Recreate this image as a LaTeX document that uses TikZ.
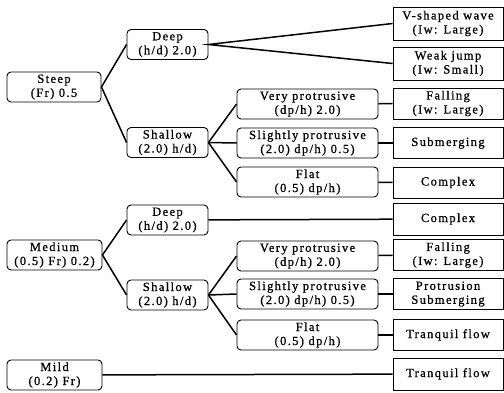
\documentclass[tikz,border=0pt]{standalone}
\usepackage{fontspec}
\setmainfont{Liberation Serif}[LetterSpace=11,FakeBold=0.8]
\usetikzlibrary{positioning}
\tikzset{
	cond/.style={
		draw,rounded corners=4pt,line width=0.9pt,align=center,
		minimum height=30pt,inner sep=1pt,font=\fontsize{12.5}{14}\selectfont},
	res/.style={
		draw,line width=0.9pt,align=center,minimum width=110pt,
		minimum height=31pt,inner sep=1pt,font=\fontsize{12.5}{14}\selectfont},
	link/.style={line width=1.5pt}
}
\begin{document}
\begin{tikzpicture}[x=1pt,y=-1pt]
	\useasboundingbox (0,0) rectangle (504,392);
	% slope classes
	\node[cond,minimum width=94pt] (steep) at (54,87) {Steep\\(Fr) 0.5};
	\node[cond,minimum width=95pt] (medium) at (54.5,255) {Medium\\(0.5) Fr) 0.2)};
	\node[cond,minimum width=95pt] (mild) at (54.5,375) {Mild\\(0.2) Fr)};
	% depth
	\node[cond,minimum width=81pt] (deepA) at (167.5,44.5) {Deep\\(h/d) 2.0)};
	\node[cond,minimum width=81pt] (shallowA) at (167.5,142.5) {Shallow\\(2.0) h/d)};
	\node[cond,minimum width=81pt] (deepB) at (167.5,220) {Deep\\(h/d) 2.0)};
	\node[cond,minimum width=81pt] (shallowB) at (167.5,295) {Shallow\\(2.0) h/d)};
	% protrusion
	\node[cond,minimum width=141pt] (veryA) at (307.5,104) {Very protrusive\\(dp/h) 2.0)};
	\node[cond,minimum width=141pt] (slightA) at (307.5,143) {Slightly protrusive\\(2.0) dp/h) 0.5)};
	\node[cond,minimum width=141pt] (flatA) at (307.5,182) {Flat\\(0.5) dp/h)};
	\node[cond,minimum width=141pt] (veryB) at (307.5,256) {Very protrusive\\(dp/h) 2.0)};
	\node[cond,minimum width=141pt] (slightB) at (307.5,294) {Slightly protrusive\\(2.0) dp/h) 0.5)};
	\node[cond,minimum width=141pt] (flatB) at (307.5,335) {Flat\\(0.5) dp/h)};
	% flow types
	\node[res,minimum height=33pt] (vshape) at (448,23.5) {V-shaped wave\\(Iw: Large)};
	\node[res,minimum height=33pt] (weak) at (448,63.5) {Weak jump\\(Iw: Small)};
	\node[res] (fallA) at (448,103.5) {Falling\\(Iw: Large)};
	\node[res] (subm) at (448,143) {Submerging};
	\node[res] (cplxA) at (448,182.5) {Complex};
	\node[res,minimum height=32pt] (cplxB) at (448,219) {Complex};
	\node[res] (fallB) at (448,255) {Falling\\(Iw: Large)};
	\node[res] (protsub) at (448,294) {Protrusion\\Submerging};
	\node[res] (tranqA) at (448,335) {Tranquil flow};
	\node[res,minimum height=32pt] (tranqB) at (448,374) {Tranquil flow};
	% connectors
	\draw[link] (deepA.west) -- (steep.east) -- (shallowA.west);
	\draw[link] (vshape.west) -- (deepA.east) -- (weak.west);
	\draw[link] (shallowA.east) -- (veryA.west);
	\draw[link] (shallowA.east) -- (slightA.west);
	\draw[link] (shallowA.east) -- (flatA.west);
	\draw[link] (veryA) -- (fallA);
	\draw[link] (slightA) -- (subm);
	\draw[link] (flatA) -- (cplxA);
	\draw[link] (deepB.west) -- (medium.east) -- (shallowB.west);
	\draw[link] (deepB) -- (cplxB);
	\draw[link] (shallowB.east) -- (veryB.west);
	\draw[link] (shallowB.east) -- (slightB.west);
	\draw[link] (shallowB.east) -- (flatB.west);
	\draw[link] (veryB) -- (fallB);
	\draw[link] (slightB) -- (protsub);
	\draw[link] (flatB) -- (tranqA);
	\draw[link] (mild) -- (tranqB);
\end{tikzpicture}
\end{document}
